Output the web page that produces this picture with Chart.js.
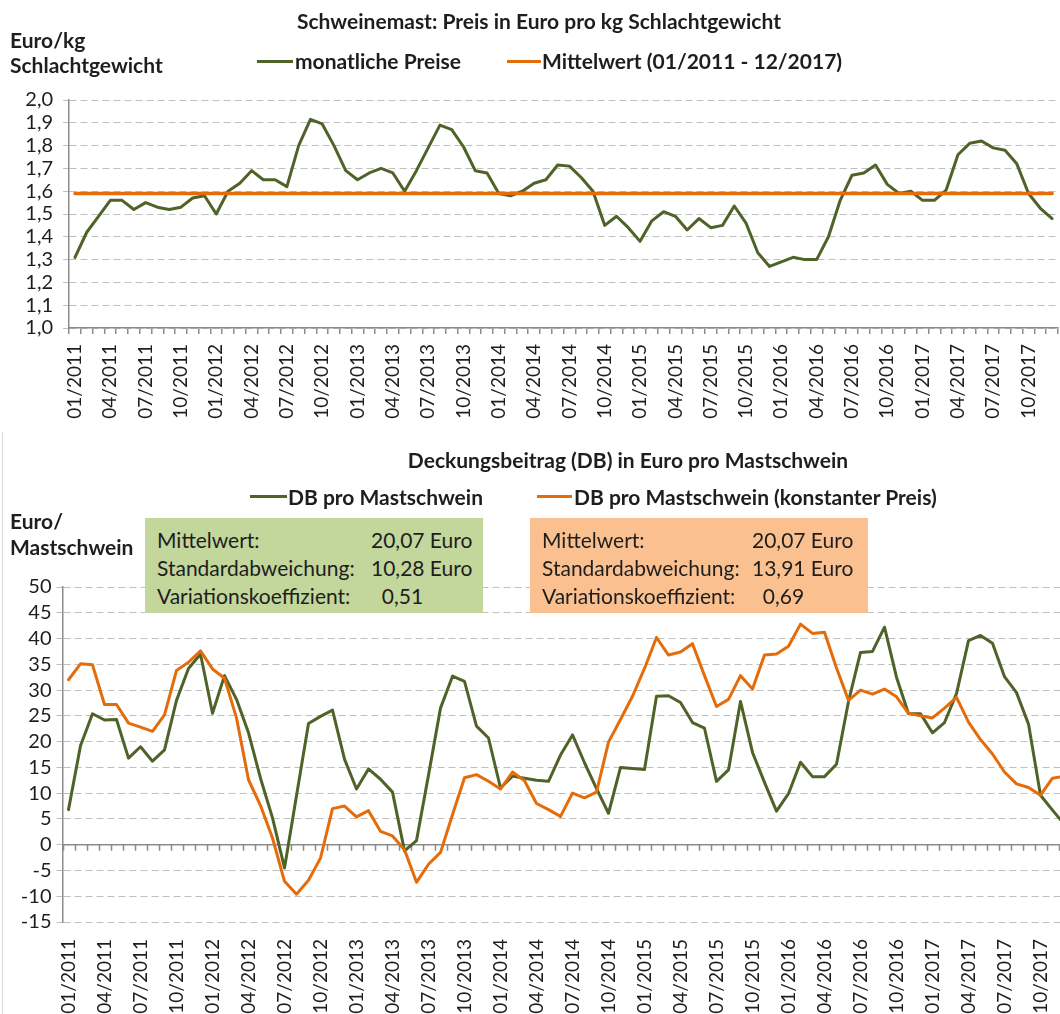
<!DOCTYPE html>
<html lang="de">
<head>
<meta charset="utf-8">
<title>Schweinemast: Preis und Deckungsbeitrag</title>
<script src="https://cdn.jsdelivr.net/npm/chart.js@4.4.1/dist/chart.umd.min.js"></script>
<style>
  html, body { margin: 0; padding: 0; background: #fff; overflow: hidden; }
  body { width: 1060px; height: 1014px; position: relative; font-family: Lato, "Open Sans", sans-serif; color: #1e1e1e; }
  .abs { position: absolute; white-space: pre; }
  .bold { font-weight: bold; font-size: 21px; line-height: 25px; }
  .swatch { position: absolute; height: 3px; }
  .statbox { position: absolute; width: 338px; height: 95px; }
  .statbox div { position: absolute; font-size: 21px; line-height: 25px; white-space: pre; }
  #priceChart { position: absolute; left: 0; top: 0; }
  #dbChart { position: absolute; left: 0; top: 430px; }
  #frame { position: absolute; left: 2px; top: 432px; width: 1px; height: 582px; background: #d9d9d9; }
</style>
</head>
<body>
<canvas id="priceChart" width="1060" height="432"></canvas>
<canvas id="dbChart" width="1072" height="584"></canvas>
<div id="frame"></div>

<div class="abs bold" style="left:539px; top:8px; transform:translateX(-50%);">Schweinemast: Preis in Euro pro kg Schlachtgewicht</div>
<div class="abs bold" style="left:10px; top:27px;">Euro/kg</div>
<div class="abs bold" style="left:10px; top:52px;">Schlachtgewicht</div>
<div class="swatch" style="left:257px; top:60px; width:36px; background:#4f6228;"></div>
<div class="abs bold" style="left:295px; top:48px;">monatliche Preise</div>
<div class="swatch" style="left:507px; top:60px; width:34px; background:#e46c0a;"></div>
<div class="abs bold" style="left:542px; top:48px;">Mittelwert (01/2011 - 12/2017)</div>

<div class="abs bold" style="left:628px; top:447px; transform:translateX(-50%);">Deckungsbeitrag (DB) in Euro pro Mastschwein</div>
<div class="swatch" style="left:250px; top:495px; width:37px; background:#4f6228;"></div>
<div class="abs bold" style="left:288px; top:484px;">DB pro Mastschwein</div>
<div class="swatch" style="left:537px; top:495px; width:35px; background:#e46c0a;"></div>
<div class="abs bold" style="left:574px; top:484px;">DB pro Mastschwein (konstanter Preis)</div>
<div class="abs bold" style="left:10px; top:508px;">Euro/</div>
<div class="abs bold" style="left:10px; top:534px;">Mastschwein</div>

<div class="statbox" id="boxActual" style="left:145px; top:518px; background:#c3d69b;"></div>
<div class="statbox" id="boxConst" style="left:530px; top:518px; background:#fac090;"></div>

<script>
// categories: months 01/2011 .. 12/2017
const years = [2011, 2012, 2013, 2014, 2015, 2016, 2017];
const months = ['01', '02', '03', '04', '05', '06', '07', '08', '09', '10', '11', '12'];
const monthLabels = [];
years.forEach(y => months.forEach(m => monthLabels.push(m + '/' + y)));

// Preis in Euro pro kg Schlachtgewicht
const monthlyPrices = [
  1.31, 1.42, 1.49, 1.56, 1.56, 1.52, 1.55, 1.53, 1.52, 1.53, 1.57, 1.58,
  1.50, 1.60, 1.635, 1.69, 1.65, 1.65, 1.62, 1.80, 1.915, 1.895, 1.80, 1.69,
  1.65, 1.68, 1.70, 1.68, 1.60, 1.69, 1.79, 1.89, 1.87, 1.795, 1.69, 1.68,
  1.59, 1.58, 1.60, 1.635, 1.65, 1.715, 1.71, 1.66, 1.60, 1.45, 1.49, 1.44,
  1.38, 1.47, 1.51, 1.49, 1.43, 1.48, 1.44, 1.45, 1.535, 1.46, 1.33, 1.27,
  1.29, 1.31, 1.30, 1.30, 1.40, 1.56, 1.67, 1.68, 1.715, 1.63, 1.59, 1.60,
  1.56, 1.56, 1.605, 1.76, 1.81, 1.82, 1.79, 1.78, 1.72, 1.59, 1.525, 1.48
];
const priceMean = 1.59;

// DB in Euro pro Mastschwein
const dbActual = [
  6.8, 19.2, 25.4, 24.2, 24.3, 16.8, 19.0, 16.2, 18.4, 28.0, 34.2, 37.0,
  25.5, 32.8, 28.2, 21.7, 12.9, 5.2, -4.5, 9.5, 23.5, 24.9, 26.1, 16.6,
  10.8, 14.7, 12.7, 10.2, -1.2, 0.8, 13.5, 26.5, 32.7, 31.7, 23.0, 20.7,
  11.0, 13.3, 12.9, 12.5, 12.3, 17.4, 21.3, 15.9, 10.9, 6.1, 15.0, 14.8,
  14.6, 28.8, 28.9, 27.6, 23.7, 22.6, 12.3, 14.5, 27.8, 17.9, 12.1, 6.5,
  9.9, 16.0, 13.2, 13.2, 15.6, 27.8, 37.3, 37.5, 42.2, 32.5, 25.4, 25.4,
  21.7, 23.7, 29.3, 39.6, 40.6, 39.1, 32.6, 29.5, 23.4, 9.6, 6.7, 3.9
];
const dbConstPrice = [
  32.0, 35.1, 34.9, 27.2, 27.2, 23.6, 22.8, 22.0, 25.2, 33.8, 35.4, 37.6,
  34.1, 32.3, 24.6, 12.6, 7.6, 1.3, -7.1, -9.6, -6.9, -2.6, 7.0, 7.5,
  5.4, 6.6, 2.6, 1.7, -1.0, -7.3, -3.8, -1.5, 5.8, 13.0, 13.6, 12.3,
  10.8, 14.1, 12.4, 8.0, 6.8, 5.5, 10.0, 9.1, 10.2, 19.9, 24.3, 28.8,
  34.2, 40.2, 36.8, 37.4, 39.0, 32.8, 26.8, 28.2, 32.8, 30.2, 36.8, 37.0,
  38.5, 42.8, 41.0, 41.2, 34.3, 28.0, 30.0, 29.2, 30.2, 28.7, 25.5, 25.0,
  24.6, 26.5, 28.6, 23.8, 20.4, 17.6, 14.1, 11.8, 11.1, 9.6, 12.9, 13.3
];

// Kennzahlen in den Textfeldern
const statsActual = [['Mittelwert:', '20,07 Euro'], ['Standardabweichung:', '10,28 Euro'], ['Variationskoeffizient:', '  0,51']];
const statsConst = [['Mittelwert:', '20,07 Euro'], ['Standardabweichung:', '13,91 Euro'], ['Variationskoeffizient:', '  0,69']];

const green = '#4f6228';
const orange = '#e46c0a';
const axisGray = '#8c8c8c';
const gridGray = '#bfbfbf';
const textColor = '#1e1e1e';
const yTickFont = { family: 'Lato', size: 20 };
const xTickFont = { family: 'Lato', size: 19 };

function fillBox(id, rows, valueLeft) {
  const box = document.getElementById(id);
  rows.forEach((r, i) => {
    const lab = document.createElement('div');
    lab.textContent = r[0];
    lab.style.left = '12px';
    lab.style.top = (9 + i * 28) + 'px';
    const val = document.createElement('div');
    val.textContent = r[1];
    val.style.left = valueLeft + 'px';
    val.style.top = (9 + i * 28) + 'px';
    box.appendChild(lab);
    box.appendChild(val);
  });
}
fillBox('boxActual', statsActual, 226);
fillBox('boxConst', statsConst, 222);

// solid zero line with small tick marks (x axis crosses at 0)
const zeroAxis = {
  id: 'zeroAxis',
  beforeDatasetsDraw(chart) {
    const { ctx, chartArea, scales } = chart;
    const y0 = scales.y.getPixelForValue(0);
    const step = scales.x.getPixelForValue(1) - scales.x.getPixelForValue(0);
    const start = scales.x.getPixelForValue(0) - step / 2;
    ctx.save();
    ctx.strokeStyle = axisGray;
    ctx.lineWidth = 1.5;
    ctx.beginPath();
    ctx.moveTo(chartArea.left, y0);
    ctx.lineTo(chartArea.right, y0);
    for (let i = 0; i <= monthLabels.length; i++) {
      const px = Math.round(start + i * step) + 0.5;
      ctx.moveTo(px, y0);
      ctx.lineTo(px, y0 + 6);
    }
    ctx.stroke();
    ctx.restore();
  }
};

// keep rotated labels from shrinking the plot area
function fixXAxis(height) {
  return s => { s.height = height; s.paddingLeft = 0; s.paddingRight = 0; };
}

const common = {
  responsive: false,
  animation: false,
  plugins: { legend: { display: false }, tooltip: { enabled: false } },
  elements: {
    point: { radius: 0 },
    line: { tension: 0, borderJoinStyle: 'round', borderCapStyle: 'round', fill: false }
  }
};

new Chart(document.getElementById('priceChart'), {
  type: 'line',
  data: {
    labels: monthLabels,
    datasets: [
      {
        label: 'Mittelwert (01/2011 - 12/2017)',
        data: [{ x: monthLabels[0], y: priceMean }, { x: monthLabels[monthLabels.length - 1], y: priceMean }],
        borderColor: orange,
        borderWidth: 3.5,
        order: 0
      },
      {
        label: 'monatliche Preise',
        data: monthlyPrices,
        borderColor: green,
        borderWidth: 3,
        order: 1
      }
    ]
  },
  options: {
    ...common,
    layout: { padding: { top: 100, right: 2, left: 0, bottom: 0 } },
    scales: {
      x: {
        offset: true,
        grid: { offset: true, drawOnChartArea: false, tickLength: 6, color: axisGray, lineWidth: 1.5 },
        border: { color: axisGray, width: 1.5 },
        ticks: {
          autoSkip: false, maxRotation: 90, minRotation: 90, padding: 10,
          color: textColor, font: xTickFont,
          callback: (v, i) => (i % 3 === 0 ? monthLabels[i] : '')
        },
        afterFit: fixXAxis(104)
      },
      y: {
        min: 1, max: 2,
        ticks: { stepSize: 0.1, autoSkip: false, padding: 10, color: textColor, font: yTickFont,
          callback: v => v.toFixed(1).replace('.', ',') },
        grid: { color: gridGray, lineWidth: 1, tickLength: 6 },
        border: { color: axisGray, width: 1.5, dash: [7, 4] },
        afterFit: s => { s.width = 69.1; }
      }
    }
  }
});

new Chart(document.getElementById('dbChart'), {
  type: 'line',
  data: {
    labels: monthLabels,
    datasets: [
      { label: 'DB pro Mastschwein (konstanter Preis)', data: dbConstPrice, borderColor: orange, borderWidth: 3, order: 0 },
      { label: 'DB pro Mastschwein', data: dbActual, borderColor: green, borderWidth: 3, order: 1 }
    ]
  },
  options: {
    ...common,
    layout: { padding: { top: 157, right: 1.5, left: 0, bottom: 0 } },
    scales: {
      x: {
        offset: true,
        grid: { display: false },
        border: { display: false },
        ticks: {
          autoSkip: false, maxRotation: 90, minRotation: 90, padding: 9,
          color: textColor, font: xTickFont,
          callback: (v, i) => (i % 3 === 0 ? monthLabels[i] : '')
        },
        afterFit: fixXAxis(92)
      },
      y: {
        min: -15, max: 50,
        ticks: { stepSize: 5, autoSkip: false, padding: 5, color: textColor, font: yTickFont, callback: v => String(v) },
        grid: { color: gridGray, lineWidth: 1, tickLength: 6 },
        border: { color: axisGray, width: 1.5, dash: [7, 4] },
        afterFit: s => { s.width = 62.5; }
      }
    }
  },
  plugins: [zeroAxis]
});
</script>
</body>
</html>
